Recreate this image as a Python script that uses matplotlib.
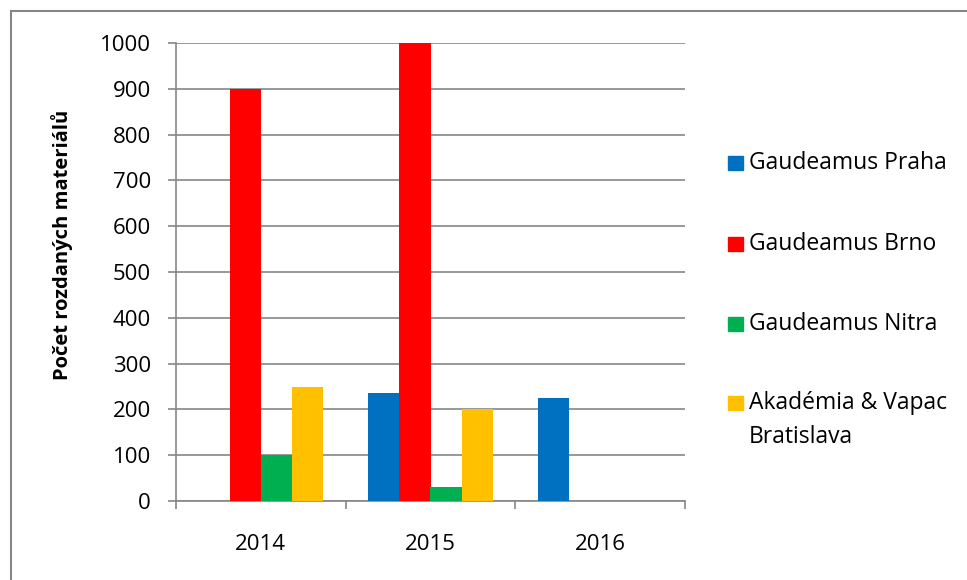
#!/usr/bin/env python3
"""Bar chart: počet rozdaných materiálů per veletrh a rok."""
import matplotlib
matplotlib.use("Agg")
import matplotlib.pyplot as plt
from matplotlib.lines import Line2D
from matplotlib.patches import Rectangle
import numpy as np

YEARS = ["2014", "2015", "2016"]
SERIES = ["Gaudeamus Praha", "Gaudeamus Brno", "Gaudeamus Nitra", "Akadémia & Vapac\nBratislava"]
PRAHA = [0, 235, 225]
BRNO = [900, 1000, 0]
NITRA = [100, 30, 0]
AKADEMIA = [250, 200, 0]
COLORS = ["#0070C0", "#FF0000", "#00B050", "#FFC000"]
YLABEL = "Počet rozdaných materiálů"

GRAY = "#868686"
W, H = 967, 580

plt.rcParams["font.family"] = ["Open Sans", "DejaVu Sans"]


def main() -> int:
    fig = plt.figure(figsize=(W / 100, H / 100), dpi=100)
    ax = fig.add_axes([176 / W, 1 - 501 / H, (685 - 176) / W, (501 - 43) / H])

    values = [PRAHA, BRNO, NITRA, AKADEMIA]
    x = np.arange(len(YEARS))
    bw = 0.183
    for i, (vals, color) in enumerate(zip(values, COLORS)):
        ax.bar(x + (i - 1.5) * bw, vals, width=bw, color=color, zorder=3)

    ax.set_xlim(-0.5, len(YEARS) - 0.5)
    ax.set_ylim(0, 1000)
    ax.set_yticks(range(0, 1001, 100))
    ax.set_xticks(x)
    ax.set_xticklabels(YEARS)
    ax.set_xticks(np.arange(-0.5, len(YEARS), 1.0), minor=True)

    ax.grid(axis="y", color=GRAY, linewidth=1.2, zorder=0)
    for side in ("top", "right"):
        ax.spines[side].set_visible(False)
    for side in ("left", "bottom"):
        ax.spines[side].set_color(GRAY)
        ax.spines[side].set_linewidth(1.2)

    ax.tick_params(axis="y", direction="out", length=6, width=1.2, color=GRAY,
                   labelsize=16, pad=12)
    ax.tick_params(axis="x", which="major", length=0, labelsize=16, pad=24)
    ax.tick_params(axis="x", which="minor", direction="out", length=6, width=1.2, color=GRAY)

    fig.text(62 / W, 1 - 245 / H, YLABEL, rotation=90, ha="center", va="center",
             fontsize=14.5, fontweight="bold")

    # legend, placed like the Excel original
    legend_y = [163, 244, 324, 403]
    for name, color, ly in zip(SERIES, COLORS, legend_y):
        fig.patches.append(Rectangle((728 / W, 1 - (ly + 7) / H), 15 / W, 14 / H,
                                     transform=fig.transFigure, color=color))
        lines = name.split("\n")
        for k, line in enumerate(lines):
            fig.text(749 / W, 1 - (ly + k * 34) / H, line, ha="left", va="center",
                     fontsize=16.5)

    # outer chart frame (only top and left edges visible in the crop)
    fig.add_artist(Line2D([11 / W, 11 / W], [0, 1 - 11 / H], color=GRAY, linewidth=1.5,
                          transform=fig.transFigure))
    fig.add_artist(Line2D([11 / W, 1], [1 - 11 / H, 1 - 11 / H], color=GRAY, linewidth=1.5,
                          transform=fig.transFigure))

    fig.savefig("out.png", dpi=100)
    plt.close(fig)
    return 0


if __name__ == "__main__":
    raise SystemExit(main())
